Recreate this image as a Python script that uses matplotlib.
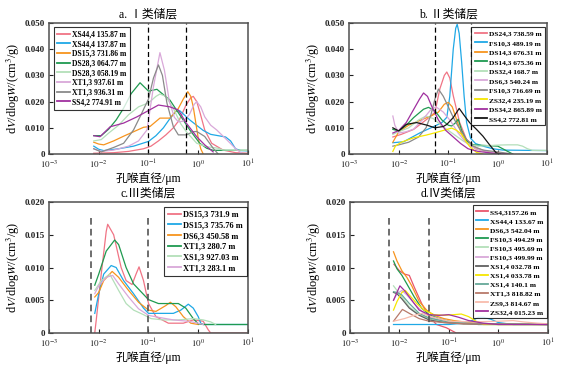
import numpy as np
import matplotlib
matplotlib.use("Agg")
import matplotlib.pyplot as plt
import matplotlib.ticker as mticker

plt.rcParams.update({
    "font.family": ["Liberation Serif", "Noto Sans CJK SC"],
    "mathtext.fontset": "stix",
    "axes.linewidth": 1.1,
    "axes.edgecolor": "#505050",
    "xtick.direction": "in",
    "ytick.direction": "in",
    "figure.facecolor": "white",
})

PINK, BLUE, ORANGE, GREEN = "#f07485", "#1fa8e6", "#f7941e", "#1f9a50"
LGREEN, LAV, GRAY, PURPLE = "#b3dfb9", "#d9a8d9", "#8a8a8a", "#a0309f"
YELLOW, BLACK, TEAL, BROWN = "#f6e600", "#151515", "#66a898", "#b87a6a"
SALMON, DGRAY, RED = "#f8bcac", "#606060", "#e8566c"

# ---------------- a. I 类储层 (x = log10 diameter / um) ----------------
a_labels = ["XS44,4 135.87 m", "XS44,4 137.87 m", "DS15,3 731.86 m", "DS28,3 064.77 m",
            "DS28,3 058.19 m", "XT1,3 937.61 m", "XT1,3 936.31 m", "SS4,2 774.91 m"]
a_colors = [PINK, BLUE, ORANGE, GREEN, LGREEN, LAV, GRAY, PURPLE]
a_logd = [
    [-2.1, -1.7, -1.4, -1.1, -0.95, -0.8, -0.65, -0.5, -0.38, -0.25, -0.15, -0.1, -0.03, 0.04, 0.13, 0.27, 0.5, 0.75, 1.0],
    [-2.1, -2.0, -1.9, -1.6, -1.3, -1.0, -0.85, -0.7, -0.57, -0.45, -0.37, -0.17, 0.1, 0.25, 0.4, 0.55, 0.65, 0.75, 0.85, 1.0],
    [-2.1, -2.0, -1.9, -1.7, -1.5, -1.3, -1.1, -0.97, -0.77, -0.57, -0.4, -0.3, -0.21, -0.15, -0.1, -0.05, 0.0, 0.05, 0.1],
    [-2.1, -1.95, -1.8, -1.65, -1.5, -1.35, -1.17, -1.0, -0.83, -0.57, -0.37, -0.17, 0.03, 0.17, 0.3, 1.0],
    [-2.1, -1.95, -1.8, -1.6, -1.4, -1.2, -1.0, -0.85, -0.77, -0.65, -0.5, -0.35, -0.24, -0.03, 0.17, 0.4, 0.5, 1.0],
    [-2.1, -1.95, -1.7, -1.4, -1.2, -1.03, -0.9, -0.77, -0.68, -0.58, -0.48, -0.4, -0.3, -0.18, -0.08, -0.03, 0.05, 0.13, 0.25, 0.37, 0.57, 0.77, 0.9],
    [-2.1, -1.95, -1.7, -1.5, -1.3, -1.15, -1.0, -0.9, -0.8, -0.72, -0.63, -0.5, -0.4, -0.24, -0.1, -0.03, 0.13, 0.3, 0.4],
    [-2.1, -1.975, -1.77, -1.5, -1.23, -0.98, -0.8, -0.57, -0.4, -0.24, -0.03, 0.13, 0.3],
]
a_vals = [
    [0.0003, 0.0005, 0.001, 0.002, 0.003, 0.005, 0.0073, 0.010, 0.013, 0.0185, 0.0215, 0.022, 0.020, 0.0155, 0.0092, 0.0041, 0.0015, 0.0005, 0.0003],
    [0.003, 0.0018, 0.0013, 0.002, 0.003, 0.0048, 0.007, 0.010, 0.0135, 0.0162, 0.0165, 0.013, 0.009, 0.0075, 0.007, 0.0065, 0.005, 0.002, 0.0013, 0.0012],
    [0.0045, 0.0038, 0.0035, 0.005, 0.0068, 0.0085, 0.0102, 0.0105, 0.0137, 0.0137, 0.0174, 0.021, 0.0238, 0.022, 0.018, 0.012, 0.006, 0.002, 0.0],
    [0.007, 0.007, 0.0095, 0.013, 0.0175, 0.023, 0.0272, 0.024, 0.0247, 0.0206, 0.0149, 0.0092, 0.0041, 0.0022, 0.0014, 0.0014],
    [0.005, 0.0055, 0.008, 0.011, 0.015, 0.018, 0.0195, 0.022, 0.0229, 0.022, 0.0174, 0.0115, 0.0085, 0.0041, 0.0028, 0.0022, 0.0015, 0.0014],
    [0.002, 0.001, 0.0015, 0.003, 0.005, 0.0092, 0.0257, 0.0387, 0.032, 0.020, 0.014, 0.0123, 0.0125, 0.015, 0.019, 0.020, 0.018, 0.0142, 0.011, 0.0092, 0.0055, 0.0017, 0.0],
    [0.002, 0.0008, 0.0025, 0.0041, 0.0092, 0.015, 0.021, 0.029, 0.034, 0.030, 0.0195, 0.0104, 0.0073, 0.0073, 0.0085, 0.0086, 0.0067, 0.0022, 0.0],
    [0.007, 0.0066, 0.0104, 0.0118, 0.0142, 0.0168, 0.0187, 0.018, 0.0168, 0.0118, 0.0066, 0.0035, 0.0008],
]
a_dash = [-1.0, -0.25]

# ---------------- b. II 类储层 ----------------
b_labels = ["DS24,3 738.59 m", "FS10,3 489.19 m", "DS14,3 676.31 m", "DS14,3 675.36 m", "DS32,4 168.7 m",
            "DS6,3 540.24 m", "FS10,3 716.69 m", "ZS32,4 235.19 m", "DS34,2 865.89 m", "SS4,2 772.81 m"]
b_colors = [PINK, BLUE, ORANGE, GREEN, LGREEN, LAV, GRAY, YELLOW, PURPLE, BLACK]
b_logd = [
    [-2.12, -1.95, -1.7, -1.43, -1.27, -1.17, -1.08, -1.03, -0.97, -0.9, -0.77, -0.63, -0.43, -0.16, 0.2],
    [-2.12, -1.9, -1.57, -1.27, -1.13, -1.03, -0.97, -0.9, -0.85, -0.82, -0.78, -0.73, -0.68, -0.63, -0.55, -0.45, -0.3, -0.1, 0.1, 1.0],
    [-2.12, -2.0, -1.8, -1.55, -1.35, -1.2, -1.08, -1.0, -0.92, -0.83, -0.73, -0.6, -0.45, -0.2, 0.2],
    [-2.12, -2.0, -1.85, -1.7, -1.5, -1.4, -1.27, -1.13, -1.0, -0.93, -0.85, -0.8, -0.73, -0.63, -0.5, -0.3, 0.0, 0.15, 0.3],
    [-2.12, -2.0, -1.8, -1.6, -1.45, -1.3, -1.15, -1.0, -0.85, -0.7, -0.55, -0.4, -0.2, 0.0, 0.2, 0.4, 0.5, 0.6, 0.7, 1.0],
    [-2.12, -2.08, -2.0, -1.85, -1.7, -1.5, -1.35, -1.25, -1.1, -0.95, -0.8, -0.65, -0.45, -0.2, 0.1],
    [-2.12, -2.0, -1.8, -1.6, -1.45, -1.35, -1.27, -1.2, -1.1, -1.0, -0.9, -0.8, -0.65, -0.5, -0.3, 0.0, 0.3],
    [-2.12, -2.07, -1.95, -1.7, -1.45, -1.27, -1.1, -0.93, -0.83, -0.73, -0.65, -0.57, -0.43, -0.3],
    [-2.12, -2.0, -1.85, -1.7, -1.58, -1.5, -1.42, -1.33, -1.2, -1.05, -0.9, -0.75, -0.6, -0.4, -0.1, 0.2],
    [-2.12, -2.0, -1.85, -1.64, -1.43, -1.27, -1.1, -1.03, -0.9, -0.78, -0.67, -0.57, -0.43, -0.3, -0.17, -0.03, 0.05],
]
b_vals = [
    [0.0065, 0.0075, 0.0094, 0.0133, 0.0159, 0.0249, 0.030, 0.0313, 0.029, 0.0223, 0.012, 0.0055, 0.0023, 0.0006, 0.0],
    [0.0043, 0.0047, 0.0081, 0.0107, 0.012, 0.014, 0.022, 0.040, 0.048, 0.0495, 0.046, 0.035, 0.022, 0.012, 0.006, 0.004, 0.003, 0.002, 0.0015, 0.0013],
    [0.0045, 0.0085, 0.011, 0.013, 0.0145, 0.016, 0.019, 0.0197, 0.018, 0.013, 0.0075, 0.004, 0.002, 0.0008, 0.0],
    [0.0094, 0.0088, 0.011, 0.0139, 0.0171, 0.0178, 0.0165, 0.013, 0.011, 0.0107, 0.012, 0.0133, 0.009, 0.005, 0.0035, 0.0033, 0.003, 0.0015, 0.0],
    [0.0075, 0.0085, 0.010, 0.013, 0.0145, 0.0135, 0.011, 0.009, 0.007, 0.005, 0.0035, 0.003, 0.0032, 0.0034, 0.0035, 0.0035, 0.003, 0.002, 0.0014, 0.0014],
    [0.0145, 0.011, 0.008, 0.0085, 0.0095, 0.0135, 0.017, 0.018, 0.016, 0.0125, 0.008, 0.0045, 0.002, 0.0008, 0.0],
    [0.003, 0.0035, 0.0045, 0.0065, 0.010, 0.015, 0.021, 0.0248, 0.022, 0.018, 0.014, 0.0105, 0.006, 0.003, 0.0015, 0.0008, 0.0],
    [0.001, 0.003, 0.0045, 0.0062, 0.0072, 0.0081, 0.009, 0.0099, 0.009, 0.0075, 0.005, 0.0029, 0.0006, 0.0],
    [0.008, 0.009, 0.012, 0.017, 0.021, 0.0233, 0.022, 0.018, 0.013, 0.009, 0.0065, 0.004, 0.002, 0.001, 0.0003, 0.0],
    [0.010, 0.0088, 0.0113, 0.012, 0.011, 0.010, 0.0105, 0.0113, 0.0139, 0.0174, 0.0145, 0.012, 0.0094, 0.0068, 0.0036, 0.0004, 0.0],
]
b_dash = [-1.27, -0.54]

# ---------------- c. III 类储层 ----------------
c_labels = ["DS15,3 731.9 m", "DS15,3 735.76 m", "DS6,3 450.58 m",
            "XT1,3 280.7 m", "XS1,3 927.03 m", "XT1,3 283.1 m"]
c_colors = [PINK, BLUE, ORANGE, GREEN, LGREEN, LAV]
c_logd = [
    [-2.08, -2.05, -1.95, -1.85, -1.82, -1.7, -1.55, -1.45, -1.33, -1.25, -1.19, -1.1, -1.0, -0.85, -0.6, -0.3, -0.1, 0.1, 0.2, 0.25, 1.0],
    [-2.08, -2.0, -1.9, -1.75, -1.65, -1.5, -1.3, -1.1, -1.0, -0.8, -0.5, -0.35, -0.2, -0.1, 0.0, 0.05, 0.1, 1.0],
    [-2.08, -2.0, -1.9, -1.73, -1.6, -1.4, -1.2, -1.0, -0.85, -0.65, -0.56, -0.45, -0.3, -0.15, 0.0],
    [-2.08, -2.0, -1.85, -1.68, -1.6, -1.45, -1.3, -1.15, -1.0, -0.8, -0.55, -0.4, -0.25, -0.1, 0.0, 0.1, 1.0],
    [-2.08, -1.95, -1.78, -1.6, -1.45, -1.3, -1.1, -0.95, -0.7, -0.4, -0.1, 0.1, 0.25, 0.35],
    [-2.08, -2.0, -1.85, -1.72, -1.6, -1.4, -1.2, -1.0, -0.8, -0.5, -0.2, 0.0, 0.1],
]
c_vals = [
    [0.0, 0.002, 0.009, 0.0155, 0.0166, 0.015, 0.010, 0.008, 0.0074, 0.009, 0.0101, 0.008, 0.0045, 0.0025, 0.0015, 0.0015, 0.0020, 0.0018, 0.0005, 0.0, 0.0],
    [0.003, 0.006, 0.009, 0.0103, 0.0100, 0.008, 0.006, 0.0038, 0.003, 0.003, 0.003, 0.0035, 0.0044, 0.0038, 0.0025, 0.0015, 0.0013, 0.0013],
    [0.0055, 0.0062, 0.008, 0.0094, 0.0085, 0.0065, 0.0047, 0.0035, 0.0033, 0.0042, 0.0047, 0.004, 0.0025, 0.0015, 0.0013],
    [0.0073, 0.009, 0.0125, 0.0142, 0.0135, 0.010, 0.0075, 0.0063, 0.0051, 0.0045, 0.0045, 0.0045, 0.0038, 0.0022, 0.0014, 0.0013, 0.0013],
    [0.0065, 0.008, 0.009, 0.0065, 0.0045, 0.0035, 0.0028, 0.0022, 0.002, 0.002, 0.0022, 0.002, 0.0017, 0.0013],
    [0.006, 0.0072, 0.0085, 0.0088, 0.0075, 0.0055, 0.0037, 0.0027, 0.0024, 0.002, 0.0018, 0.0015, 0.0013],
]
c_dash = [-2.16, -1.0]
c_dash_top = [0.018, 0.018]

# ---------------- d. IV 类储层 ----------------
d_labels = ["SS4,3157.26 m", "XS44,4 133.67 m", "DS6,3 542.04 m", "FS10,3 494.29 m",
            "FS10,3 495.69 m", "FS10,3 499.99 m", "XS1,4 032.78 m", "XS1,4 033.78 m",
            "XS1,4 140.1 m", "XT1,3 818.82 m", "ZS9,3 814.67 m", "ZS32,4 015.23 m"]
d_colors = [RED, BLUE, ORANGE, GREEN, LGREEN, LAV, DGRAY, YELLOW, TEAL, BROWN, SALMON, PURPLE]
d_logd = [
    [-2.11, -2.0, -1.9, -1.8, -1.7, -1.55, -1.4, -1.25, -1.05, -0.85, 1.0],
    [-2.12, -1.0, -0.7, -0.5, -0.4, -0.3, -0.15, 0.0, 0.3, 1.0],
    [-2.12, -2.05, -1.95, -1.85, -1.75, -1.6, -1.45, -1.3, -1.1, -0.9, -0.6, -0.3, 0.0, 1.0],
    [-2.12, -2.05, -1.95, -1.85, -1.7, -1.55, -1.4, -1.2, -1.0, -0.7, -0.4, 1.0],
    [-2.12, -2.05, -1.95, -1.8, -1.6, -1.4, -1.1, -0.7, 1.0],
    [-2.12, -2.05, -1.95, -1.85, -1.7, -1.5, -1.3, -1.0, -0.5, 1.0],
    [-2.12, -2.05, -1.95, -1.8, -1.6, -1.4, -1.1, -0.7, 1.0],
    [-2.12, -2.05, -1.95, -1.88, -1.8, -1.65, -1.5, -1.3, -1.1, -0.9, -0.75, -0.6, -0.45, -0.3, 1.0],
    [-2.12, -2.05, -1.95, -1.8, -1.6, -1.4, -1.1, -0.7, 1.0],
    [-2.12, -2.05, -1.94, -1.8, -1.6, -1.4, -1.1, -0.7, 1.0],
    [-2.12, -1.9, -1.7, -1.55, -1.4, -1.2, -1.0, -0.5, 0.0, 0.3, 0.5, 0.8, 1.0],
    [-2.12, -2.05, -1.99, -1.9, -1.75, -1.6, -1.4, -1.2, -1.0, -0.8, -0.6, -0.3, 0.0, 1.0],
]
d_vals = [
    [0.0105, 0.0095, 0.0090, 0.0088, 0.0070, 0.0045, 0.0025, 0.0013, 0.0008, 0.0, 0.0],
    [0.0013, 0.0013, 0.0015, 0.002, 0.0024, 0.0024, 0.0021, 0.0016, 0.0013, 0.0013],
    [0.0124, 0.011, 0.0095, 0.0085, 0.0072, 0.0048, 0.0035, 0.0027, 0.0022, 0.0019, 0.0016, 0.0014, 0.0013, 0.0013],
    [0.011, 0.0098, 0.0088, 0.0075, 0.0055, 0.0038, 0.0028, 0.0022, 0.0018, 0.0015, 0.0013, 0.0013],
    [0.0072, 0.0065, 0.0055, 0.004, 0.0028, 0.0022, 0.0017, 0.0014, 0.0013],
    [0.005, 0.006, 0.0065, 0.0058, 0.0045, 0.003, 0.0022, 0.0017, 0.0014, 0.0013],
    [0.0062, 0.006, 0.0052, 0.0038, 0.0027, 0.002, 0.0016, 0.0014, 0.0013],
    [0.0035, 0.0048, 0.0062, 0.0065, 0.0058, 0.0045, 0.0035, 0.0028, 0.0027, 0.0028, 0.0029, 0.0025, 0.0018, 0.0013, 0.0013],
    [0.0063, 0.0062, 0.0058, 0.0045, 0.003, 0.0023, 0.0018, 0.0015, 0.0013],
    [0.0018, 0.0025, 0.0036, 0.003, 0.0022, 0.0018, 0.0016, 0.0014, 0.0013],
    [0.0018, 0.0022, 0.0027, 0.003, 0.0026, 0.0022, 0.0018, 0.0017, 0.0018, 0.0019, 0.0017, 0.0015, 0.0014],
    [0.005, 0.0062, 0.0072, 0.0065, 0.005, 0.0035, 0.0028, 0.0027, 0.0028, 0.0024, 0.0019, 0.0015, 0.0013, 0.0013],
]
d_dash = [-2.22, -1.40]
d_dash_top = [0.018, 0.0176]

YLABEL = "d$\\mathit{V}$/dlog$\\mathit{W}$/(cm$^3$/g)"


def y_fmt(v, _):
    return "0" if abs(v) < 1e-12 else f"{v:.3f}"


def setup(ax, title, ymax, ystep):
    ax.set_xscale("log")
    ax.set_xlim(1e-3, 10)
    ax.set_ylim(0, ymax)
    ax.xaxis.set_major_locator(mticker.FixedLocator([1e-3, 1e-2, 1e-1, 1, 10]))
    ax.xaxis.set_major_formatter(mticker.FixedFormatter(
        ["$10^{-3}$", "$10^{-2}$", "$10^{-1}$", "$10^{0}$", "$10^{1}$"]))
    ax.xaxis.set_minor_locator(mticker.NullLocator())
    ax.yaxis.set_major_locator(mticker.MultipleLocator(ystep))
    ax.yaxis.set_major_formatter(mticker.FuncFormatter(y_fmt))
    ax.tick_params(length=3, width=0.8, colors="#202020", labelsize=6.5, pad=3)
    for lab in ax.get_yticklabels():
        lab.set_fontweight("bold")
    ax.set_title(title, fontsize=8.5, pad=4)
    ax.set_xlabel("孔喉直径/μm", fontsize=8.5, labelpad=1)
    ax.set_ylabel(YLABEL, fontsize=8.8, labelpad=2)


def draw(ax, logd, vals, labels, colors):
    for xs, ys, lab, col in zip(logd, vals, labels, colors):
        ax.plot(10 ** np.array(xs), ys, color=col, lw=0.9, label=lab)


def legend(ax, loc, anchor, fs, spacing):
    leg = ax.legend(loc=loc, bbox_to_anchor=anchor, frameon=True, fancybox=False,
                    edgecolor="black", borderaxespad=0, handlelength=1.6, handletextpad=0.3,
                    borderpad=0.45, labelspacing=spacing, prop={"weight": "bold", "size": fs})
    leg.get_frame().set_linewidth(0.8)
    for line in leg.get_lines():
        line.set_linewidth(1.3)


fig = plt.figure(figsize=(5.71, 3.73), dpi=100)
ax_a = fig.add_axes([0.0858, 0.5871, 0.3485, 0.3512])
ax_b = fig.add_axes([0.6117, 0.5871, 0.3468, 0.3512])
ax_c = fig.add_axes([0.0858, 0.1072, 0.3485, 0.3512])
ax_d = fig.add_axes([0.6130, 0.1072, 0.3462, 0.3512])

# a
draw(ax_a, a_logd, a_vals, a_labels, a_colors)
for xd in a_dash:
    ax_a.axvline(10 ** xd, color="black", lw=0.9, ls=(0, (4, 2.5)))
setup(ax_a, "a. Ⅰ类储层", 0.05, 0.01)
legend(ax_a, "upper left", (0.025, 0.97), 5.5, 0.22)

# b
draw(ax_b, b_logd, b_vals, b_labels, b_colors)
for xd in b_dash:
    ax_b.axvline(10 ** xd, color="black", lw=0.9, ls=(0, (4, 2.5)))
setup(ax_b, "b. Ⅱ类储层", 0.05, 0.01)
legend(ax_b, "upper right", (0.988, 0.97), 5.3, 0.45)

# c
draw(ax_c, c_logd, c_vals, c_labels, c_colors)
ax_c.vlines([10 ** v for v in c_dash], 0, c_dash_top, color="#555555", lw=1.2, ls=(0, (4, 2.5)))
setup(ax_c, "c.Ⅲ类储层", 0.02, 0.005)
legend(ax_c, "upper right", (0.995, 0.962), 6, 0.32)

# d
draw(ax_d, d_logd, d_vals, d_labels, d_colors)
ax_d.vlines([10 ** v for v in d_dash], 0, d_dash_top, color="#555555", lw=1.2, ls=(0, (4, 2.5)))
setup(ax_d, "d.Ⅳ类储层", 0.02, 0.005)
legend(ax_d, "upper right", (0.996, 0.977), 5.4, 0.38)

fig.savefig("out.png", dpi=100)
